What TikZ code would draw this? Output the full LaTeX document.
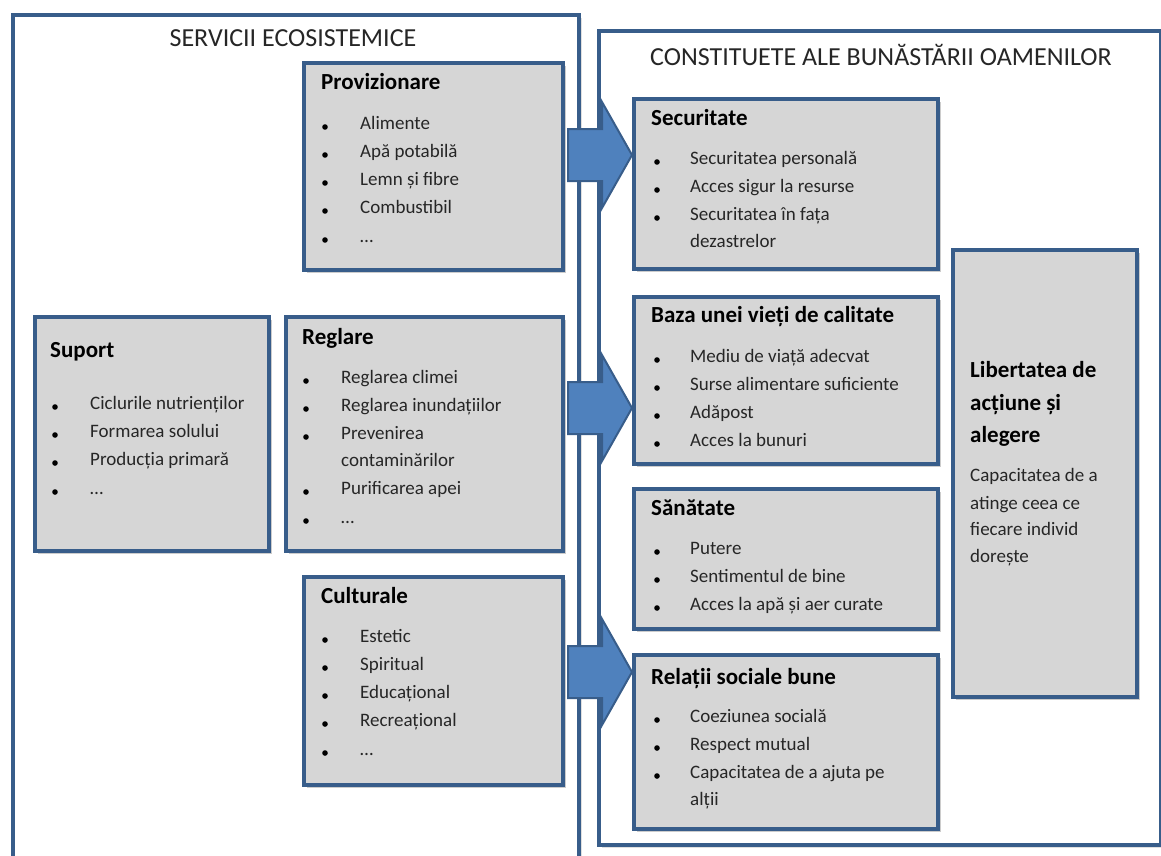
\documentclass[tikz,border=0pt]{standalone}
\usepackage{fontspec}
\setmainfont{Carlito}
\usetikzlibrary{shadows}

\definecolor{frameblue}{RGB}{56,93,138}
\definecolor{arrowblue}{RGB}{79,129,189}
\definecolor{boxgray}{RGB}{214,214,214}

\tikzset{
  frame/.style={draw=frameblue, line width=4pt, fill=white, anchor=north west, inner sep=0pt,
    drop shadow={opacity=0.25, shadow xshift=3pt, shadow yshift=-3pt}},
  box/.style={draw=frameblue, line width=4pt, fill=boxgray, anchor=north west, inner sep=0pt,
    drop shadow={opacity=0.4, shadow xshift=3pt, shadow yshift=-3pt}},
  boxtitle/.style={anchor=mid west, inner sep=0pt, font=\fontsize{23}{27}\selectfont\bfseries},
  item/.style={anchor=mid west, inner sep=0pt, font=\fontsize{19}{23}\selectfont, text=black!85},
  bigtitle/.style={inner sep=0pt, font=\fontsize{26}{31}\selectfont, text=black!85},
  dot/.style={fill=black},
  blockarrow/.style={draw=frameblue, line width=2pt, fill=arrowblue, line join=miter}
}

\begin{document}
\begin{tikzpicture}[x=1pt, y=-1pt]
    \useasboundingbox (0,0) rectangle (1161,855);
    \clip (0,0) rectangle (1161,855);
    \fill[white] (0,0) rectangle (1161,855);
    % frames
    \node[frame, minimum width=566pt, minimum height=870pt] (lframe) at (11,13) {};
    \node[frame, minimum width=562pt, minimum height=814pt] (rframe) at (597,29) {};
    \node[bigtitle] (ltitle) at (293,38) {SERVICII ECOSISTEMICE};
    \node[bigtitle] (rtitle) at (881,55) {CONSTITUETE ALE BUNĂSTĂRII OAMENILOR};
    % Provizionare
    \node[box, minimum width=259pt, minimum height=207pt] (prov) at (302,61) {};
    \node[boxtitle] (provt) at (321,87) {Provizionare};
    \foreach \y/\t [count=\i] in {127/Alimente, 155/Apă potabilă, 183/Lemn și fibre, 211/Combustibil, 240/\ldots} {
      \fill[dot] (325,\y) circle (2.8pt);
      \node[item] (prov\i) at (360,\y) {\t};
    }
    % Suport
    \node[box, minimum width=234pt, minimum height=234pt] (sup) at (33,315) {};
    \node[boxtitle] (supt) at (50,355) {Suport};
    \foreach \y/\t [count=\i] in {407/Ciclurile nutrienților, 435/Formarea solului, 463/Producția primară, 492/\ldots} {
      \fill[dot] (55,\y) circle (2.8pt);
      \node[item] (sup\i) at (90,\y) {\t};
    }
    % Reglare
    \node[box, minimum width=277pt, minimum height=234pt] (regl) at (284,315) {};
    \node[boxtitle] (reglt) at (302,342) {Reglare};
    \foreach \y/\t [count=\i] in {381/Reglarea climei, 409/Reglarea inundațiilor, 437/Prevenirea, 492/Purificarea apei, 521/\ldots} {
      \fill[dot] (306,\y) circle (2.8pt);
      \node[item] (regl\i) at (341,\y) {\t};
    }
    \node[item] (regl6) at (341,464) {contaminărilor};
    % Culturale
    \node[box, minimum width=259pt, minimum height=208pt] (cult) at (302,575) {};
    \node[boxtitle] (cultt) at (321,601) {Culturale};
    \foreach \y/\t [count=\i] in {640/Estetic, 668/Spiritual, 696/Educațional, 724/Recreațional, 753/\ldots} {
      \fill[dot] (325,\y) circle (2.8pt);
      \node[item] (cult\i) at (360,\y) {\t};
    }
    % Securitate
    \node[box, minimum width=304pt, minimum height=170pt] (secu) at (632,97) {};
    \node[boxtitle] (secut) at (651,123) {Securitate};
    \foreach \y/\t [count=\i] in {162/Securitatea personală, 190/Acces sigur la resurse, 218/Securitatea în fața} {
      \fill[dot] (657,\y) circle (2.8pt);
      \node[item] (secu\i) at (690,\y) {\t};
    }
    \node[item] (secu4) at (690,245) {dezastrelor};
    % Baza unei vieti de calitate
    \node[box, minimum width=304pt, minimum height=167pt] (baza) at (632,295) {};
    \node[boxtitle] (bazat) at (651,320) {Baza unei vieți de calitate};
    \foreach \y/\t [count=\i] in {360/Mediu de viață adecvat, 388/Surse alimentare suficiente, 416/Adăpost, 444/Acces la bunuri} {
      \fill[dot] (657,\y) circle (2.8pt);
      \node[item] (baza\i) at (690,\y) {\t};
    }
    % Sanatate
    \node[box, minimum width=304pt, minimum height=140pt] (sana) at (632,487) {};
    \node[boxtitle] (sanat) at (651,513) {Sănătate};
    \foreach \y/\t [count=\i] in {552/Putere, 580/Sentimentul de bine, 608/Acces la apă și aer curate} {
      \fill[dot] (657,\y) circle (2.8pt);
      \node[item] (sana\i) at (690,\y) {\t};
    }
    % Relatii sociale bune
    \node[box, minimum width=304pt, minimum height=174pt] (rel) at (632,653) {};
    \node[boxtitle] (relt) at (651,682) {Relații sociale bune};
    \foreach \y/\t [count=\i] in {720/Coeziunea socială, 748/Respect mutual, 776/Capacitatea de a ajuta pe} {
      \fill[dot] (657,\y) circle (2.8pt);
      \node[item] (rel\i) at (690,\y) {\t};
    }
    \node[item] (rel4) at (690,803) {alții};
    % Libertatea
    \node[box, minimum width=184pt, minimum height=447pt] (lib) at (951,248) {};
    \foreach \y/\t [count=\i] in {375/Libertatea de, 408/acțiune și, 440/alegere} {
      \node[boxtitle, font=\fontsize{23}{27}\selectfont\bfseries] (libt\i) at (970,\y) {\t};
    }
    \foreach \y/\t [count=\i] in {479/Capacitatea de a, 507/atinge ceea ce, 533/fiecare individ, 560/dorește} {
      \node[item] (lib\i) at (970,\y) {\t};
    }
    % block arrows
    \foreach \y in {155,408,672} {
      \draw[blockarrow] (568,\y-26) -- (602,\y-26) -- (602,\y-53) -- (632,\y)
        -- (602,\y+53) -- (602,\y+26) -- (568,\y+26) -- cycle;
    }
\end{tikzpicture}
\end{document}
